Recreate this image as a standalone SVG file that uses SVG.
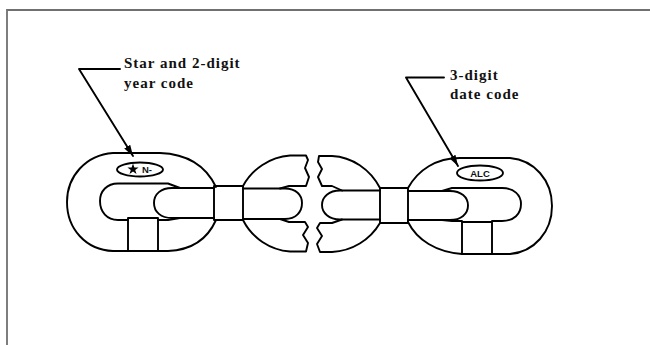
<svg xmlns="http://www.w3.org/2000/svg" width="650" height="345" viewBox="0 0 650 345">
<style>
.l{fill:none;stroke:#000;stroke-width:1.9;stroke-linejoin:round;stroke-linecap:round}
.t{font-family:"Liberation Serif",serif;font-weight:700;font-size:15px;fill:#111;letter-spacing:1px}
.s{font-family:"Liberation Sans",sans-serif;font-weight:700;font-size:9.500px;fill:#111}
</style>
<defs><marker id="a" markerUnits="userSpaceOnUse" markerWidth="12" markerHeight="10" refX="11" refY="4" orient="auto"><path d="M0 .5 L11 4 L0 7.500Z" fill="#000"/></marker></defs>
<rect width="650" height="345" fill="#fff"/>
<path d="M7 345V10H650" fill="none" stroke="#707070" stroke-width="1.800"/>
<g id="link-left">
<path class="l" d="M216 187C206 166 188 154 160 153H113C86 155 67 176 67 202C67 229 86 250 113 251H168C192 250 208 238 216 220"/>
<path class="l" d="M180 188L168 183.500H118C107 183.500 100 191 100 201C100 212 107 220 118 220H128M158 220H168L180 218"/>
<rect class="l" x="128" y="218" width="30" height="33" fill="#fff"/>
<ellipse class="l" cx="140" cy="169.500" rx="23" ry="7"/>
<path d="M133 163.500L134.400 167.500H138.600L135.200 170L136.500 174L133 171.600L129.500 174L130.800 170L127.400 167.500H131.600Z" fill="#000"/>
<text class="s" x="142" y="173">N-</text>
</g>
<g id="link-mid-left">
<path class="l" d="M214 188H172C161 188 154 194 154 203C154 212 161 218 172 218H214"/>
<rect class="l" x="214" y="186" width="29" height="34"/>
<path class="l" d="M243 188.500H285C296 188.500 302 195 302 203C302 212 296 219 285 219H243"/>
<path class="l" d="M243 186C252 169 270 157 290 155.500H306L308 160L305 168L309 177L306 186H289L280 188.500"/>
<path class="l" d="M243 220C252 238 270 250 290 251.500H306L308 243L303 235L308 227L305 222H289L280 219"/>
</g>
<g id="link-mid-right">
<path class="l" d="M380 190.500H340C329 190.500 322 197 322 205C322 213 329 219.500 340 219.500H380"/>
<rect class="l" x="380" y="188" width="28" height="35"/>
<path class="l" d="M408 191H450C461 191 468 197 468 205.500C468 214 461 220 450 220H408"/>
<path class="l" d="M380 188C370 169 352 157 332 156H319L318 162L322 169L318 177L322 186H332L342 190.500"/>
<path class="l" d="M380 223C370 240 352 251 332 252H320L317 244L322 236L317 228L320 223H332L342 219.500"/>
</g>
<g id="link-right">
<path class="l" d="M408 188C418 170 436 158 460 158H510C534 160 552 180 552 206C552 232 534 252 510 254H462C436 252 417 240 408 222"/>
<path class="l" d="M442 191L452 188H502C514 188 521 195 521 204C521 214 514 221 502 221H492M462 221H452L442 220"/>
<rect class="l" x="462" y="222" width="30" height="32" fill="#fff"/>
<ellipse class="l" cx="480" cy="173" rx="23" ry="7.500"/>
<text class="s" x="480" y="176.500" text-anchor="middle">ALC</text>
</g>
<g id="connectors">
<path class="l" d="M120 69H79L133 156" marker-end="url(#a)"/>
<path class="l" d="M444 77.500H406L458 166" marker-end="url(#a)"/>
</g>
<g id="labels">
<text class="t" x="124" y="68">Star and 2-digit</text>
<text class="t" x="124" y="88">year code</text>
<text class="t" x="450" y="80">3-digit</text>
<text class="t" x="450" y="99">date code</text>
</g>
</svg>
